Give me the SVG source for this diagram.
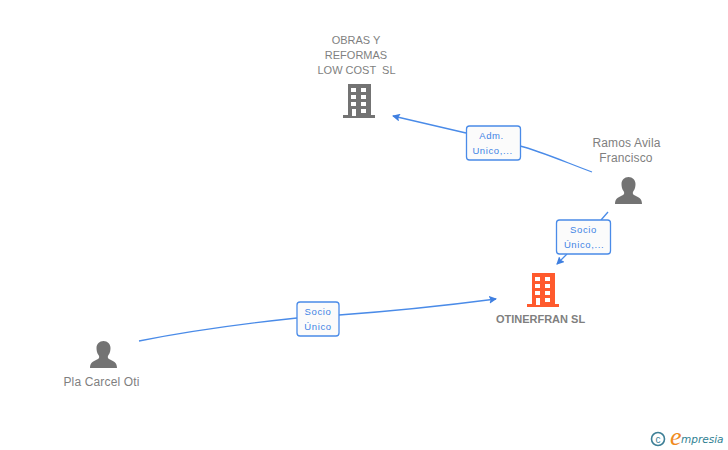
<svg xmlns="http://www.w3.org/2000/svg" width="728" height="450" viewBox="0 0 728 450">
<style>
text{font-family:"Liberation Sans",Arial,sans-serif}
.n{font-size:11px;fill:#7f7f7f;text-anchor:middle;white-space:pre}
.m{font-size:12px;letter-spacing:.15px}
.b{font-size:11px;font-weight:bold;fill:#7f7f7f;text-anchor:middle}
.l{font-size:9.500px;fill:#3f84e5;text-anchor:middle;letter-spacing:.6px}
.e{fill:none;stroke:#4a8be8;stroke-width:1.300}
.box{fill:#fbfbfb;stroke:#4a8be8;stroke-width:1.300}
.g{fill:#737373}.o{fill:#ff5a2d}.w{fill:#fff}
</style>
<defs>
<marker id="a" viewBox="0 0 8 8" refX="7" refY="4" markerWidth="8" markerHeight="8" markerUnits="userSpaceOnUse" orient="auto"><path d="M0 0L8 4L0 8L1.500 4Z" fill="#3f7fe0"/></marker>
<g id="bld"><rect x="2" y="0" width="23" height="31"/><rect x="-3" y="31" width="32" height="3"/>
<g class="w"><rect x="5" y="4" width="5" height="4"/><rect x="15" y="4" width="5" height="4"/><rect x="5" y="11" width="5" height="4"/><rect x="15" y="11" width="5" height="4"/><rect x="5" y="18" width="5" height="4"/><rect x="15" y="18" width="5" height="4"/><rect x="6" y="25" width="4" height="7"/><rect x="15" y="25" width="5" height="4"/></g></g>
<path id="p" d="M0 27C0 21 4 20 8 18C9.500 17 9.500 15.500 8.500 14C7 12 6.500 9.500 6.500 7C6.500 3 9.500 0 13.500 0C17.500 0 20.500 3 20.500 7C20.500 9.500 20 12 18.500 14C17.500 15.500 17.500 17 19 18C23 20 27 21 27 27Z"/>
</defs>
<g id="connectors">
<path class="e" d="M592 172C565 162 540 151 520 146M466 133L393 116" marker-end="url(#a)"/>
<path class="e" d="M608 212L601 220"/>
<path class="e" d="M567 254L557 264" marker-end="url(#a)"/>
<path class="e" d="M139 341C190 331 250 323 297 318M339 315C395 311 450 305 496 299" marker-end="url(#a)"/>
</g>
<g id="edge-label-1"><rect class="box" x="466.500" y="126" width="54" height="34" rx="3"/><text class="l" x="491.500" y="139">Adm.</text><text class="l" x="492.500" y="154">Unico,...</text></g>
<g id="edge-label-2"><rect class="box" x="556.500" y="220" width="54" height="34" rx="3"/><text class="l" x="583.500" y="233">Socio</text><text class="l" x="584" y="248">Único,...</text></g>
<g id="edge-label-3"><rect class="box" x="297" y="302" width="42" height="34" rx="3"/><text class="l" x="318" y="315">Socio</text><text class="l" x="318" y="330">Único</text></g>
<g id="node-obras"><text class="n" x="356" y="44">OBRAS Y</text><text class="n" x="356" y="59">REFORMAS</text><text class="n" x="356.500" y="74">LOW COST  SL</text><use href="#bld" x="346" y="84" class="g"/></g>
<g id="node-ramos"><text class="n m" x="626.500" y="147">Ramos Avila</text><text class="n m" x="626" y="162">Francisco</text><use href="#p" x="615" y="177" class="g"/></g>
<g id="node-otinerfran"><use href="#bld" x="530" y="273" class="o"/><text class="b" x="540.500" y="323">OTINERFRAN SL</text></g>
<g id="node-pla"><use href="#p" x="90" y="341" class="g"/><text class="n m" x="101.500" y="386">Pla Carcel Oti</text></g>
<g id="logo"><circle cx="658" cy="439" r="6.500" fill="none" stroke="#3d7f96" stroke-width="1.600"/><text x="658" y="442.500" font-size="10" fill="#3d7f96" text-anchor="middle">c</text><text x="670" y="445" style="font-family:'Liberation Serif',serif;font-style:italic" font-size="26" fill="#f08a1d">e</text><text x="681" y="443" style="font-family:'DejaVu Sans',sans-serif;font-style:italic" font-size="10.500" fill="#2f7f92">mpresia</text></g>
</svg>
